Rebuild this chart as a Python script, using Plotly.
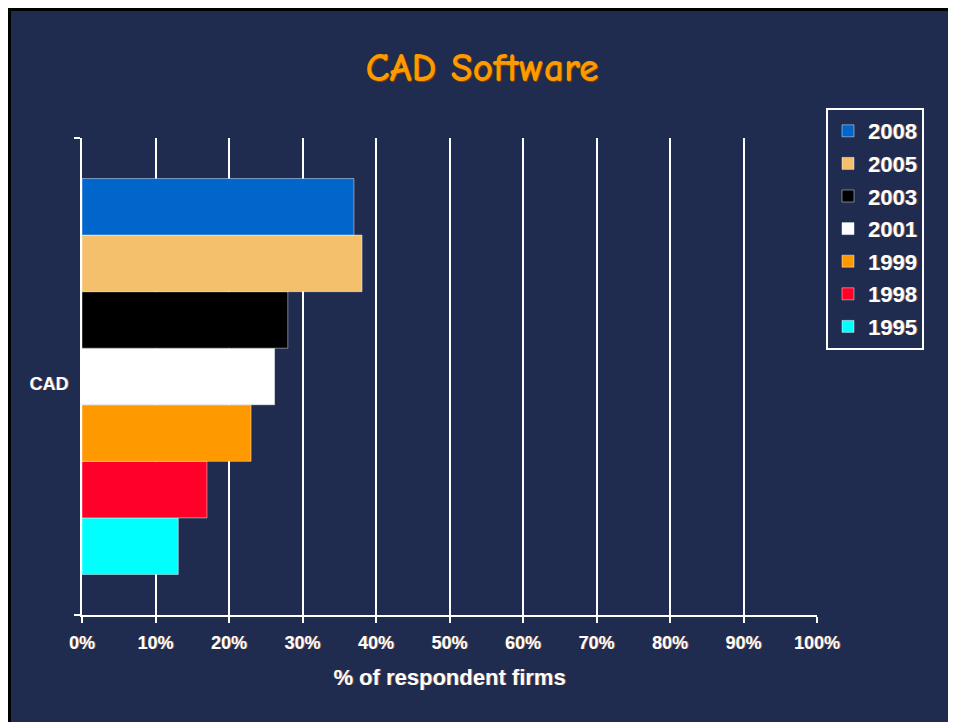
import plotly.graph_objects as go

# data
categories = ['CAD']
years = ['1995', '1998', '1999', '2001', '2003', '2005', '2008']
values = [13.1, 17.0, 23.0, 26.2, 28.0, 38.1, 37.0]
colors = ['#00ffff', '#ff0029', '#ff9900', '#ffffff', '#000000', '#f4c06c', '#0066cc']
x_ticks = [0, 10, 20, 30, 40, 50, 60, 70, 80, 90, 100]
x_ticklabels = ['0%', '10%', '20%', '30%', '40%', '50%', '60%', '70%', '80%', '90%', '100%']

# page body adds an 8px margin, so the figure is sized to fill the rest
W, H = 948, 714
ML, MR, MT, MB = 74, 139, 130, 107
BG = '#1f2b4f'
FONT = 'Arial, Liberation Sans, sans-serif'
SHADOW = '1px 0px 0px rgba(225,150,90,0.55)'


def px_x(p):
    return (p - ML) / (W - ML - MR)


def px_y(p):
    return (H - MB - p) / (H - MT - MB)


fig = go.Figure()
for i, (yr, v, c) in enumerate(zip(years, values, colors)):
    fig.add_trace(go.Bar(
        y=categories, x=[v], name=yr, orientation='h',
        legendgroup=yr, legendrank=100 - i,
        marker=dict(color=c, line=dict(color='rgba(255,255,255,0.45)', width=1)),
    ))

fig.update_layout(
    width=W, height=H,
    margin=dict(l=ML, r=MR, t=MT, b=MB),
    paper_bgcolor=BG, plot_bgcolor=BG,
    barmode='group', bargap=0.17, bargroupgap=0,
    title=dict(text='CAD Software', x=0.5, xref='container', y=1 - 59 / H, yanchor='middle',
               font=dict(family='Comic Sans MS, Comic Neue, Lato, sans-serif', size=40,
                         color='#ff9900', weight='bold',
                         shadow='1px 1px 1px #8a4a00')),
    legend=dict(x=px_x(818), y=px_y(100), xanchor='left', yanchor='top',
                traceorder='grouped', tracegroupgap=1,
                bgcolor=BG, bordercolor='white', borderwidth=2,
                itemwidth=30,
                font=dict(family=FONT, size=22, color='white', weight='bold', shadow=SHADOW)),
    xaxis=dict(range=[0, 100], tickvals=x_ticks, ticktext=x_ticklabels,
               showgrid=True, gridcolor='white', gridwidth=2,
               showline=True, linecolor='white', linewidth=2,
               ticks='outside', ticklen=6, tickwidth=2, tickcolor='white',
               ticklabelstandoff=4, zeroline=False,
               tickfont=dict(family=FONT, size=18, color='white', weight='bold', shadow=SHADOW),
               title=dict(text='% of respondent firms', standoff=18,
                          font=dict(family=FONT, size=22, color='white', weight='bold',
                                    shadow=SHADOW))),
    yaxis=dict(showline=True, linecolor='white', linewidth=2,
               ticks='outside', tickson='boundaries', ticklen=6, tickwidth=2, tickcolor='white',
               ticklabelstandoff=8, ticklabelshift=7,
               showgrid=False, zeroline=False,
               tickfont=dict(family=FONT, size=18, color='white', weight='bold', shadow=SHADOW)),
    shapes=[
        # black frame round the slide, top and left edges
        dict(type='rect', xref='paper', yref='paper', layer='above',
             x0=px_x(0), x1=px_x(W), y0=px_y(0), y1=px_y(3),
             fillcolor='black', line=dict(width=0)),
        dict(type='rect', xref='paper', yref='paper', layer='above',
             x0=px_x(0), x1=px_x(3), y0=px_y(0), y1=px_y(H),
             fillcolor='black', line=dict(width=0)),
    ],
)

fig.write_html('out.html')
